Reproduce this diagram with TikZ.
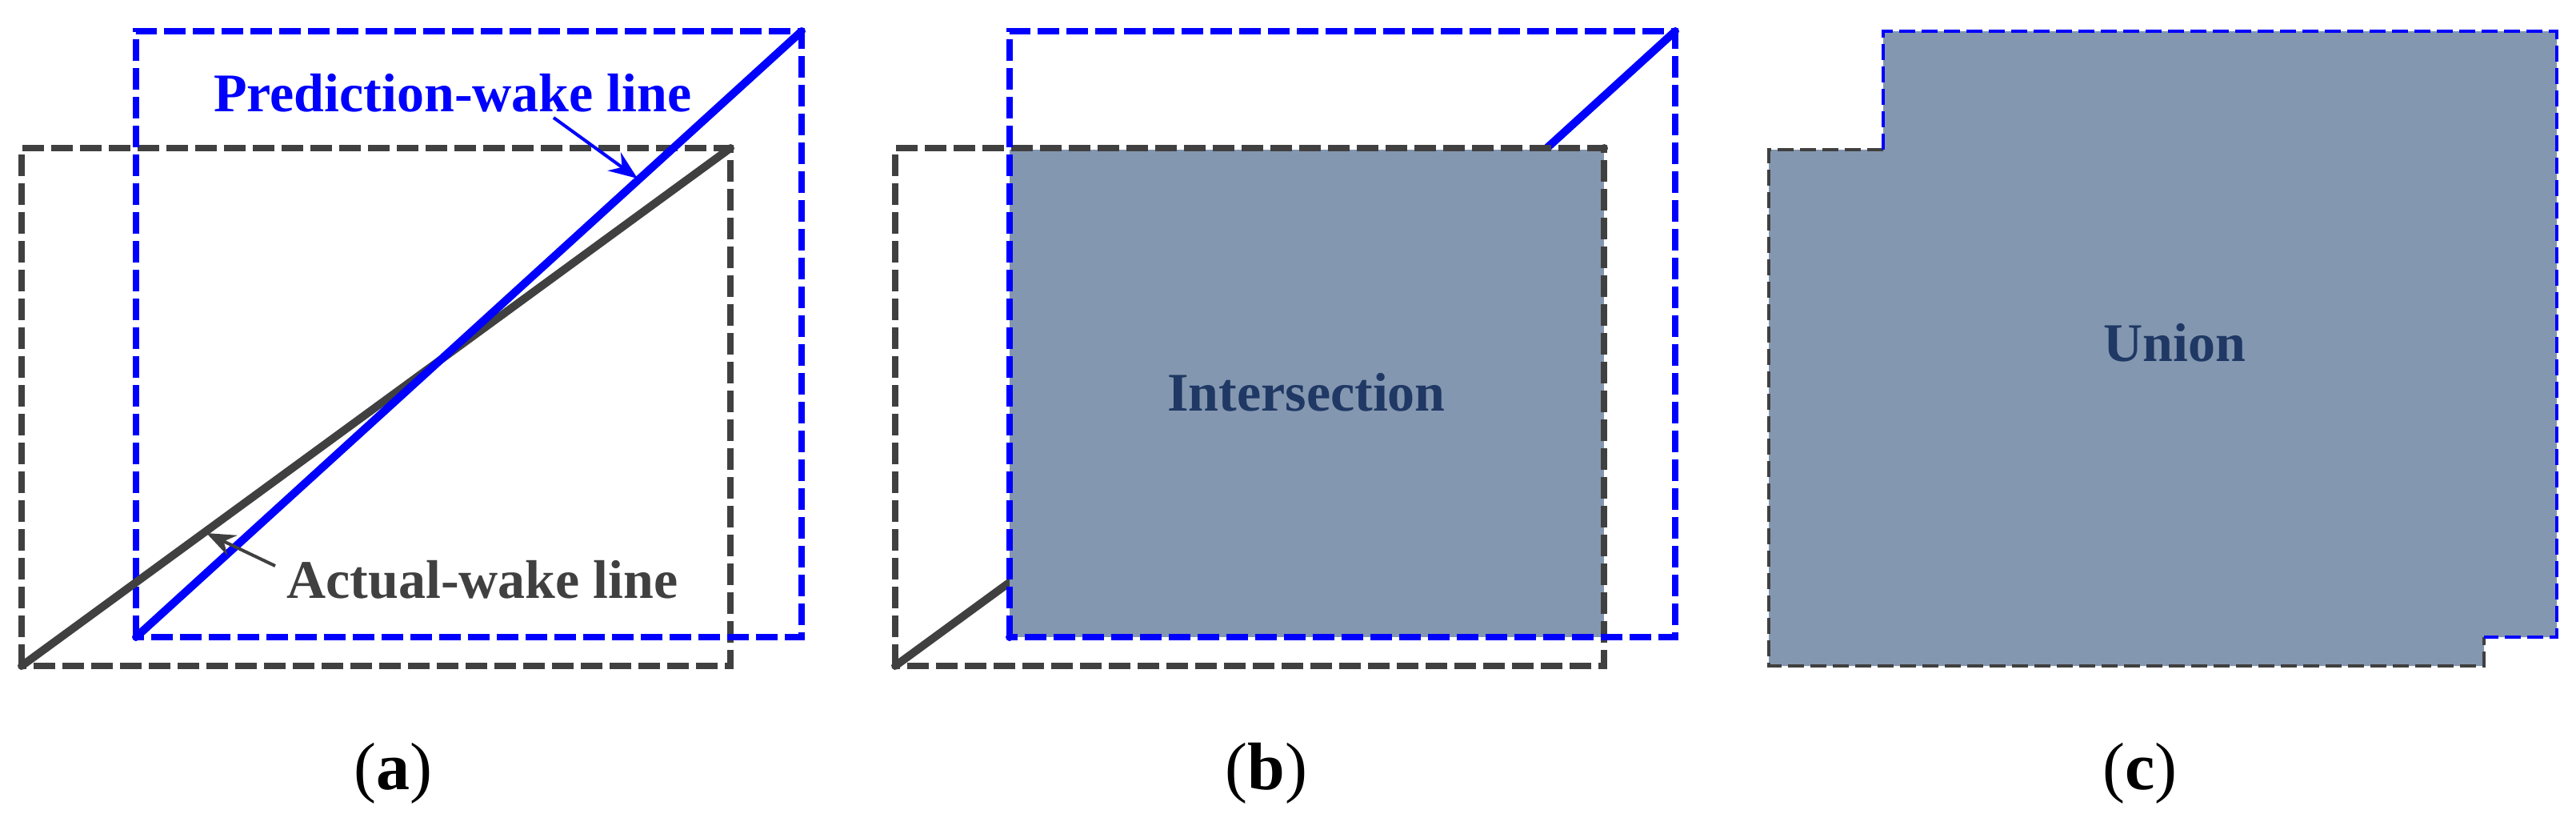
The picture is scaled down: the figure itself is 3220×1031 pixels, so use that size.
\documentclass[tikz,border=0pt]{standalone}
\usepackage{fontspec}
\setmainfont{Liberation Serif}
\usetikzlibrary{arrows.meta}
\definecolor{dgray}{HTML}{404040}
\definecolor{fillc}{HTML}{8497B0}
\definecolor{txtc}{HTML}{1F3864}
\begin{document}
\begin{tikzpicture}[x=0.25pt,y=-0.25pt,
  rectk/.style={draw=dgray,line width=2pt,dash pattern=on 6.75pt off 2.25pt},
  rectb/.style={draw=blue,line width=2pt,dash pattern=on 6.75pt off 2.25pt},
  thin k/.style={draw=dgray,line width=1.2pt,dash pattern=on 5pt off 2pt},
  thin b/.style={draw=blue,line width=1.2pt,dash pattern=on 5pt off 2pt},
  wake/.style={line width=2.5pt,line cap=round,line join=round},
  lbl/.style={font=\fontsize{17}{20}\selectfont\bfseries,anchor=base,inner sep=0},
  captxt/.style={font=\fontsize{21}{24}\selectfont,anchor=base,inner sep=0},
  pointer/.style={line width=1pt,-{Stealth[length=9pt,width=7pt,inset=3pt]}}]
\useasboundingbox (0,0) rectangle (3220,1031);
% ---------- (a)
\coordinate (ka1) at (27,832); \coordinate (ka2) at (913,185);
\coordinate (ba1) at (170,796); \coordinate (ba2) at (1002,39);
\draw[rectk] (ka1) rectangle (ka2);
\draw[rectb] (ba1) rectangle (ba2);
\draw[wake,dgray] (ka1) -- (ka2);
\draw[wake,blue] (ba1) -- (ba2);
\node[lbl,blue] (pl) at (566,139) {Prediction-wake line};
\node[lbl,dgray] (al) at (603,747) {Actual-wake line};
\coordinate (pt1) at (692,147); \coordinate (pt2) at (797,223);
\coordinate (at1) at (344,707); \coordinate (at2) at (258,666);
\draw[pointer,blue] (pt1) -- (pt2);
\draw[pointer,dgray] (at1) -- (at2);
\node[captxt] (ca) at (491,986) {(\textbf{a})};
% ---------- (b)
\coordinate (kb1) at (1119,832); \coordinate (kb2) at (2005,185);
\coordinate (bb1) at (1262,796); \coordinate (bb2) at (2094,39);
\draw[wake,dgray] (kb1) -- (kb2);
\draw[wake,blue] (bb1) -- (bb2);
\fill[fillc] (1262,187) rectangle (2005,796);
\draw[rectk] (kb1) rectangle (kb2);
\draw[rectb] (bb1) rectangle (bb2);
\node[lbl,txtc] (inter) at (1633,513) {Intersection};
\node[captxt] (cb) at (1583,986) {(\textbf{b})};
% ---------- (c)
\fill[fillc] (2211,187) -- (2354,187) -- (2354,39) -- (3196,39) -- (3196,796)
  -- (3105,796) -- (3105,832) -- (2211,832) -- cycle;
\draw[thin k] (2354,187) -- (2211,187) -- (2211,832) -- (3105,832) -- (3105,796);
\draw[thin b] (2354,187) -- (2354,39) -- (3196,39) -- (3196,796) -- (3105,796);
\node[lbl,txtc] (uni) at (2718,451) {Union};
\node[captxt] (cc) at (2675,986) {(\textbf{c})};
\end{tikzpicture}
\end{document}
